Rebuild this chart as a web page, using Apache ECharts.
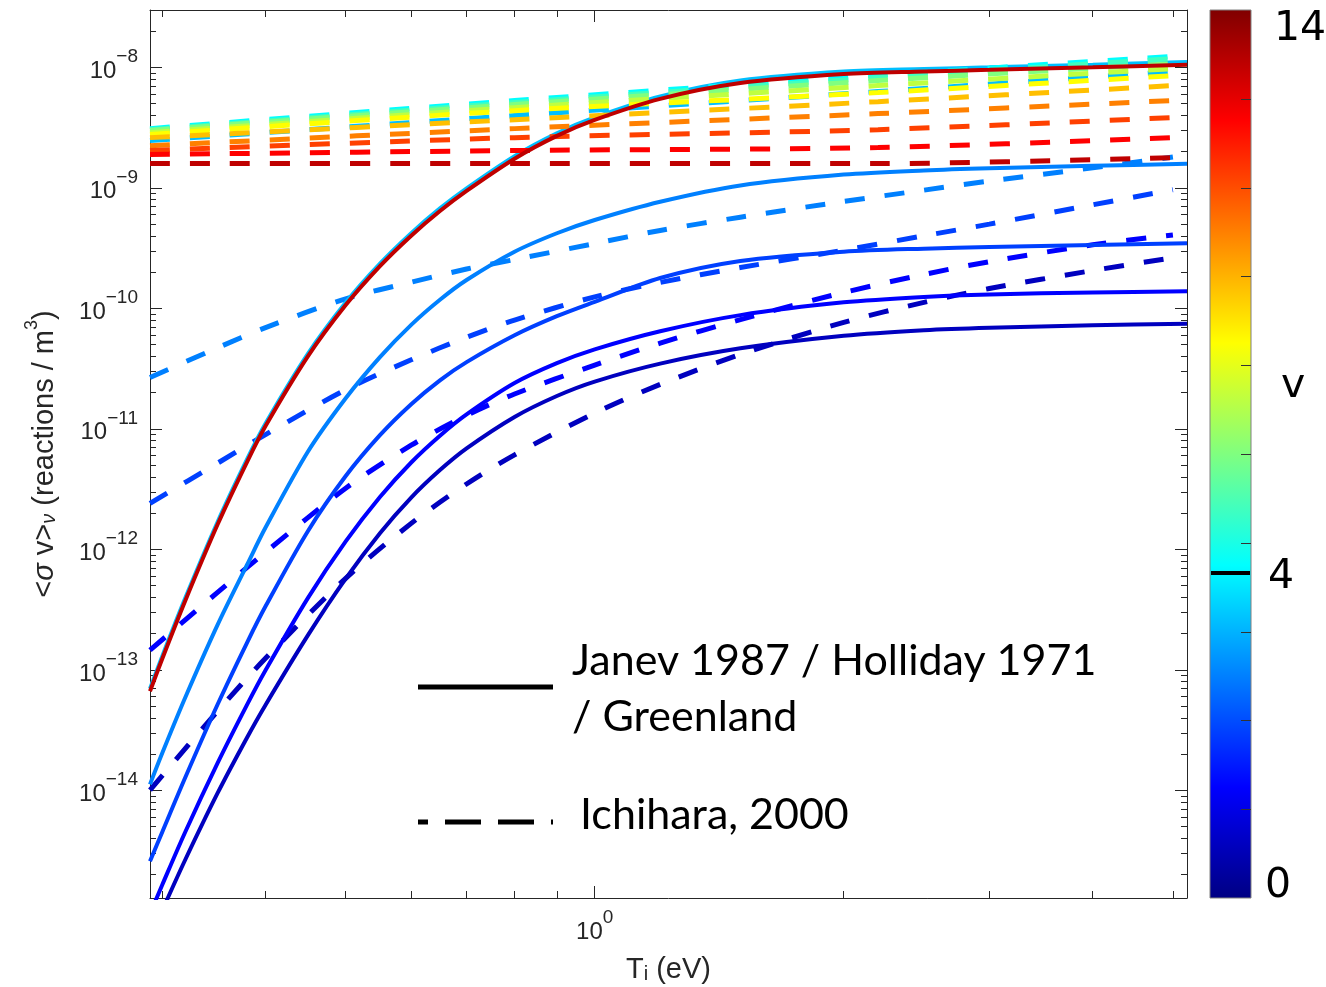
<!DOCTYPE html>
<html><head><meta charset="utf-8">
<script src="https://cdn.jsdelivr.net/npm/echarts@6/dist/echarts.min.js"></script>
<style>html,body{margin:0;padding:0;background:#fff}#c{width:1326px;height:987px}</style>
</head><body><div id="c"></div>
<script>
// ---------------- data ----------------
// Janev 1987 / Holliday 1971 / Greenland (solid)
const T_solid = [0.29,0.3,0.32,0.35,0.38,0.4,0.45,0.5,0.55,0.6,0.65,0.7,0.8,0.9,1.0,1.2,1.5,2,2.5,3,4,5.2];
const janev_v0 = [6.01e-16,1.009e-15,2.67e-15,9.48e-15,2.75e-14,5.12e-14,1.932e-13,5.71e-13,1.361e-12,2.69e-12,4.55e-12,6.89e-12,1.256e-11,1.875e-11,2.47e-11,3.48e-11,4.66e-11,5.92e-11,6.58e-11,6.90e-11,7.23e-11,7.46e-11];
const janev_v1 = [9.48e-16,1.641e-15,4.54e-15,1.683e-14,5.15e-14,9.93e-14,3.94e-13,1.164e-12,2.72e-12,5.26e-12,8.77e-12,1.318e-11,2.40e-11,3.51e-11,4.57e-11,6.46e-11,8.79e-11,1.122e-10,1.245e-10,1.306e-10,1.355e-10,1.387e-10];
const janev_v2 = [2.58e-15,4.50e-15,1.285e-14,5.16e-14,1.687e-13,3.37e-13,1.416e-12,4.06e-12,8.87e-12,1.603e-11,2.53e-11,3.58e-11,5.98e-11,8.61e-11,1.132e-10,1.786e-10,2.47e-10,2.95e-10,3.13e-10,3.225e-10,3.36e-10,3.475e-10];
const janev_v3 = [1.122e-14,2.03e-14,5.92e-14,2.36e-13,7.46e-13,1.517e-12,6.46e-12,1.795e-11,3.94e-11,7.29e-11,1.178e-10,1.718e-10,2.95e-10,4.20e-10,5.41e-10,7.67e-10,1.047e-9,1.288e-9,1.396e-9,1.455e-9,1.524e-9,1.581e-9];
const janev_v4 = [6.98e-14,1.295e-13,3.96e-13,1.687e-12,5.6e-12,1.107e-11,4.19e-11,1.117e-10,2.35e-10,4.21e-10,6.75e-10,9.91e-10,1.833e-9,2.835e-9,3.84e-9,5.74e-9,7.77e-9,9.23e-9,9.69e-9,1.0e-8,1.052e-8,1.105e-8];
const janev_v14 = [6.65e-14,1.233e-13,3.77e-13,1.607e-12,5.33e-12,1.054e-11,3.99e-11,1.064e-10,2.24e-10,4.01e-10,6.43e-10,9.44e-10,1.746e-9,2.70e-9,3.66e-9,5.47e-9,7.40e-9,8.79e-9,9.23e-9,9.53e-9,1.002e-8,1.052e-8];

// Ichihara 2000 (dashed), low vibrational levels
const T_dash = [0.29,0.35,0.4,0.5,0.6,0.7,0.8,1.0,1.2,1.5,2,2.5,3,4,5];
const ichi_v0 = [1.006e-14,4.55e-14,1.248e-13,5.75e-13,1.643e-12,3.49e-12,6.09e-12,1.35e-11,2.34e-11,4.15e-11,7.65e-11,1.121e-10,1.46e-10,2.06e-10,2.63e-10];
const ichi_v1 = [1.457e-13,4.40e-13,9.48e-13,3.22e-12,7.32e-12,1.294e-11,1.948e-11,3.38e-11,5.14e-11,8.07e-11,1.354e-10,1.91e-10,2.44e-10,3.37e-10,4.06e-10];
const ichi_v2 = [2.41e-12,5.19e-12,8.97e-12,2.11e-11,3.74e-11,5.75e-11,8.0e-11,1.245e-10,1.64e-10,2.18e-10,3.04e-10,4.0e-10,5.0e-10,7.23e-10,9.64e-10];
const ichi_v3 = [2.67e-11,4.71e-11,6.92e-11,1.20e-10,1.65e-10,2.12e-10,2.54e-10,3.45e-10,4.43e-10,5.71e-10,7.71e-10,9.57e-10,1.138e-9,1.465e-9,1.80e-9];

// Ichihara 2000 (dashed), high vibrational levels
const T_top = [0.29,0.8,2.2,5.0];
const ichi_v4  = [2.47e-9,3.98e-9,6.29e-9,9.21e-9];
const ichi_v5  = [3.10e-9,5.30e-9,8.60e-9,1.23e-8];
const ichi_v6  = [3.04e-9,5.10e-9,8.21e-9,1.18e-8];
const ichi_v7  = [2.99e-9,4.91e-9,7.76e-9,1.073e-8];
const ichi_v8  = [2.87e-9,4.63e-9,7.05e-9,9.75e-9];
const ichi_v9  = [2.77e-9,4.37e-9,6.17e-9,8.53e-9];
const ichi_v10 = [2.61e-9,3.68e-9,5.19e-9,7.05e-9];
const ichi_v11 = [2.24e-9,3.10e-9,4.13e-9,5.30e-9];
const ichi_v12 = [2.04e-9,2.61e-9,3.04e-9,3.83e-9];
const ichi_v13 = [1.89e-9,2.04e-9,2.16e-9,2.61e-9];
const ichi_v14 = [1.59e-9,1.59e-9,1.59e-9,1.78e-9];

// axes
const xRange = [0.29, 5.2];
const yRange = [1.28e-15, 2.99e-8];
const xMajorTicks = [1];
const xMinorTicks = [0.3,0.4,0.5,0.6,0.7,0.8,0.9,2,3,4,5];
const yMajorTicks = [1e-14,1e-13,1e-12,1e-11,1e-10,1e-9,1e-8];
const colorbarLabels = ['14','4','0'];
const colorbarName = 'v';
const legendLabels = ['Janev 1987 / Holliday 1971', '/ Greenland', 'Ichihara, 2000'];

// ---------------- styles ----------------
// MATLAB jet(15) palette, index = vibrational level v
const jet15 = ['#0000bf','#0000ff','#0040ff','#0080ff','#00bfff','#00ffff','#40ffbf','#80ff80',
               '#bfff40','#ffff00','#ffbf00','#ff8000','#ff4000','#ff0000','#bf0000'];
const AX = '#262626';
const FONT = '"Liberation Sans", Arial, Helvetica, sans-serif';

const yMinorTicks = [];
for (let e = -15; e <= -8; e++) for (let k = 2; k <= 9; k++) {
  const v = k * Math.pow(10, e);
  if (v > yRange[0] && v < yRange[1]) yMinorTicks.push(v);
}

const series = [];
function addLine(T, Y, v, dashed) {
  series.push({
    type: 'line', data: T.map((t, i) => [t, Y[i]]),
    showSymbol: false, symbol: 'none', smooth: 0.3, silent: true, animation: false,
    lineStyle: { color: jet15[v], width: dashed ? 5 : 4, type: dashed ? [20, 20] : 'solid', cap: 'butt' }
  });
}
addLine(T_solid, janev_v0, 0, false); addLine(T_dash, ichi_v0, 0, true);
addLine(T_solid, janev_v1, 1, false); addLine(T_dash, ichi_v1, 1, true);
addLine(T_solid, janev_v2, 2, false); addLine(T_dash, ichi_v2, 2, true);
addLine(T_solid, janev_v3, 3, false); addLine(T_dash, ichi_v3, 3, true);
addLine(T_solid, janev_v4, 4, false); addLine(T_top, ichi_v4, 4, true);
[ichi_v5, ichi_v6, ichi_v7, ichi_v8, ichi_v9, ichi_v10, ichi_v11, ichi_v12, ichi_v13]
  .forEach((d, i) => addLine(T_top, d, i + 5, true));
addLine(T_solid, janev_v14, 14, false); addLine(T_top, ichi_v14, 14, true);

const labRich = {
  b: { fontSize: 24, fontFamily: FONT, color: AX, lineHeight: 36, verticalAlign: 'bottom' },
  s: { fontSize: 19, fontFamily: FONT, color: AX, lineHeight: 16, verticalAlign: 'top' }
};
const fmtPow = v => { const e = Math.round(Math.log10(v)); return '{b|10}{s|' + (e < 0 ? '\u2212' + (-e) : e) + '}'; };

function mkAxis(kind, pos, ticks, len, opts) {
  const range = kind === 'x' ? xRange : yRange;
  return Object.assign({
    type: 'log', logBase: 10, min: range[0], max: range[1], position: pos,
    axisLine: { show: false },
    axisTick: { show: true, inside: true, length: len, customValues: ticks, lineStyle: { color: AX, width: 1 } },
    axisLabel: { show: false, customValues: ticks },
    splitLine: { show: false }, minorTick: { show: false }, minorSplitLine: { show: false }
  }, opts || {});
}
const lineOn = { show: true, lineStyle: { color: AX, width: 1 } };

const titleRich = {
  b: { fontSize: 29, fontFamily: FONT, color: AX, lineHeight: 36, verticalAlign: 'bottom' },
  i: { fontSize: 29, fontFamily: FONT, color: AX, lineHeight: 36, verticalAlign: 'bottom', fontStyle: 'italic' },
  sub: { fontSize: 20, fontFamily: FONT, color: AX, lineHeight: 4, verticalAlign: 'bottom', fontStyle: 'italic' },
  subi: { fontSize: 20, fontFamily: FONT, color: AX, lineHeight: 4, verticalAlign: 'bottom' },
  sup: { fontSize: 18, fontFamily: FONT, color: AX, lineHeight: 7, verticalAlign: 'top' }
};

const xAxes = [
  mkAxis('x', 'bottom', xMajorTicks, 12, {
    axisLine: lineOn,
    axisLabel: { show: true, customValues: xMajorTicks, formatter: fmtPow, margin: 10, padding: [0, 0, 4, 0], rich: labRich },
    name: '{b|T}{subi|i}{b| (eV)}', nameLocation: 'middle', nameGap: 50,
    nameTextStyle: { rich: titleRich }
  }),
  mkAxis('x', 'bottom', xMinorTicks, 7),
  mkAxis('x', 'top', xMajorTicks, 12, { axisLine: lineOn }),
  mkAxis('x', 'top', xMinorTicks, 7)
];
const yAxes = [
  mkAxis('y', 'left', yMajorTicks, 12, {
    axisLine: lineOn,
    axisLabel: { show: true, customValues: yMajorTicks, formatter: fmtPow, margin: 12, padding: [0, 0, 4, 0], rich: labRich },
    name: '{b|<}{i|σ}{b| v>}{sub|ν}{b| (reactions / m}{sup|3}{b|)}', nameLocation: 'middle', nameGap: 91,
    nameTextStyle: { rich: titleRich }
  }),
  mkAxis('y', 'left', yMinorTicks, 6),
  mkAxis('y', 'right', yMajorTicks, 12, { axisLine: lineOn }),
  mkAxis('y', 'right', yMinorTicks, 6)
];

// colorbar (jet) + legend as graphic elements
const cb = { x: 1210, y: 10, w: 41, h: 888 };
const graphic = [];
graphic.push({
  type: 'rect', shape: { x: cb.x, y: cb.y, width: cb.w, height: cb.h }, silent: true,
  style: {
    fill: { type: 'linear', x: 0, y: 1, x2: 0, y2: 0, colorStops: [
      { offset: 0, color: '#000083' }, { offset: 0.125, color: '#0000ff' }, { offset: 0.375, color: '#00ffff' },
      { offset: 0.625, color: '#ffff00' }, { offset: 0.875, color: '#ff0000' }, { offset: 1, color: '#800000' }] },
    stroke: '#808080', lineWidth: 1
  }
});
for (let i = 1; i <= 9; i++) {
  const yy = Math.round(cb.y + cb.h * i / 10) + 0.5;
  graphic.push({ type: 'line', silent: true, shape: { x1: cb.x + cb.w - 10, y1: yy, x2: cb.x + cb.w, y2: yy }, style: { stroke: '#333', lineWidth: 1 } });
}
graphic.push({ type: 'line', silent: true, shape: { x1: cb.x + 1, y1: 573, x2: cb.x + cb.w - 1, y2: 573 }, style: { stroke: '#000', lineWidth: 4 } });
const cbFont = '41px "DejaVu Sans", Verdana, sans-serif';
graphic.push({ type: 'text', silent: true, x: 1274, y: 29, style: { text: colorbarLabels[0], font: cbFont, fill: '#000', textVerticalAlign: 'middle' } });
graphic.push({ type: 'text', silent: true, x: 1268, y: 577, style: { text: colorbarLabels[1], font: cbFont, fill: '#000', textVerticalAlign: 'middle' } });
graphic.push({ type: 'text', silent: true, x: 1265, y: 886, style: { text: colorbarLabels[2], font: cbFont, fill: '#000', textVerticalAlign: 'middle' } });
graphic.push({ type: 'text', silent: true, x: 1281, y: 386, style: { text: colorbarName, font: cbFont, fill: '#000', textVerticalAlign: 'middle' } });

const legFont = '43px Lato, "Open Sans", sans-serif';
graphic.push({ type: 'line', silent: true, shape: { x1: 418, y1: 687, x2: 553, y2: 687 }, style: { stroke: '#000', lineWidth: 5 } });
graphic.push({ type: 'line', silent: true, shape: { x1: 418, y1: 822, x2: 553, y2: 822 }, style: { stroke: '#000', lineWidth: 5, lineDash: [36, 17], lineDashOffset: 26 } });
graphic.push({ type: 'text', silent: true, x: 572, y: 661, style: { text: legendLabels[0], font: legFont, fill: '#000', textVerticalAlign: 'middle' } });
graphic.push({ type: 'text', silent: true, x: 572, y: 717, style: { text: legendLabels[1], font: legFont, fill: '#000', textVerticalAlign: 'middle' } });
graphic.push({ type: 'text', silent: true, x: 580, y: 815, style: { text: legendLabels[2], font: legFont, fill: '#000', textVerticalAlign: 'middle' } });

const chart = echarts.init(document.getElementById('c'), null, { renderer: 'canvas' });
chart.setOption({
  backgroundColor: '#fff',
  animation: false,
  grid: { left: 150, right: 139, top: 10, bottom: 89, containLabel: false, outerBoundsMode: 'none' },
  xAxis: xAxes,
  yAxis: yAxes,
  series: series,
  graphic: graphic
});
</script>
</body></html>
